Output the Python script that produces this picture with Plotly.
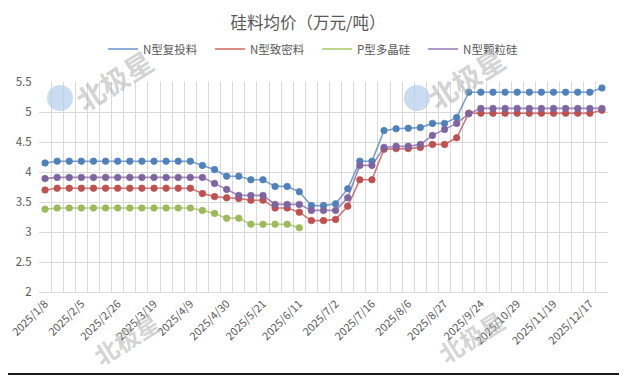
import plotly.graph_objects as go

dates = [
    "2025/1/8", "2025/1/15", "2025/1/22", "2025/2/5", "2025/2/12", "2025/2/19",
    "2025/2/26", "2025/3/5", "2025/3/12", "2025/3/19", "2025/3/26", "2025/4/2",
    "2025/4/9", "2025/4/16", "2025/4/23", "2025/4/30", "2025/5/7", "2025/5/14",
    "2025/5/21", "2025/5/28", "2025/6/4", "2025/6/11", "2025/6/18", "2025/6/25",
    "2025/7/2", "2025/7/9", "2025/7/11", "2025/7/16", "2025/7/23", "2025/7/30",
    "2025/8/6", "2025/8/13", "2025/8/20", "2025/8/27", "2025/9/10", "2025/9/17",
    "2025/9/24", "2025/10/15", "2025/10/22", "2025/10/29", "2025/11/5", "2025/11/12",
    "2025/11/19", "2025/11/26", "2025/12/3", "2025/12/17", "2025/12/24",
]

n_futou = [4.15] + [4.18] * 12 + [4.11, 4.04, 3.93, 3.93, 3.87, 3.87, 3.76, 3.76, 3.67,
           3.44, 3.44, 3.47, 3.72, 4.18, 4.18, 4.69, 4.72, 4.73, 4.74, 4.81, 4.81, 4.91] \
          + [5.33] * 11 + [5.40]
n_zhimi = [3.70] + [3.73] * 12 + [3.64, 3.59, 3.57, 3.56, 3.53, 3.53, 3.40, 3.40, 3.33,
           3.19, 3.19, 3.21, 3.43, 3.87, 3.87, 4.38, 4.39, 4.39, 4.41, 4.46, 4.46, 4.57] \
          + [4.98] * 11 + [5.03]
p_duojing = [3.38] + [3.40] * 12 + [3.36, 3.31, 3.23, 3.23, 3.13, 3.13, 3.13, 3.13, 3.07] \
            + [None] * 25
n_keli = [3.89] + [3.91] * 13 + [3.81, 3.71, 3.61, 3.61, 3.61, 3.46, 3.46, 3.46,
          3.36, 3.36, 3.36, 3.57, 4.11, 4.11, 4.41, 4.43, 4.43, 4.46, 4.61, 4.71, 4.81, 4.97] \
         + [5.06] * 11

series_names = ["N型复投料", "N型致密料", "P型多晶硅", "N型颗粒硅"]
series_values = [n_futou, n_zhimi, p_duojing, n_keli]
marker_colors = ["#4F81BD", "#C0504D", "#9BBB59", "#8064A2"]
line_colors = ["rgba(79,129,189,0.75)", "rgba(192,80,77,0.75)",
               "rgba(155,187,89,0.75)", "rgba(128,100,162,0.75)"]
legend_colors = ["#8EB0DA", "#DE8B88", "#BFD68F", "#B09ACB"]

x_idx = list(range(len(dates)))
tick_idx = x_idx[::3]
tick_text = [dates[i] for i in tick_idx]

TXT = "#595959"
GRID = "#D9D9D9"
FONT = "Noto Sans CJK SC, Noto Sans, sans-serif"

# the page body adds an 8px offset; figure is sized to fill the rest of the window
OFF = 8
FIG_W, FIG_H = 627 - OFF, 375 - OFF

fig = go.Figure()
for name, vals, mc, lc in zip(series_names, series_values, marker_colors, line_colors):
    fig.add_trace(go.Scatter(
        x=x_idx, y=vals, mode="lines+markers", name=name, showlegend=False,
        line=dict(color=lc, width=1.6),
        marker=dict(color=mc, size=6.5, line=dict(color=lc, width=1)),
        hoverinfo="skip",
    ))
for i, (name, lg) in enumerate(zip(series_names, legend_colors)):
    pad = "\u00a0\u00a0\u00a0" if i < len(series_names) - 1 else ""
    fig.add_trace(go.Scatter(
        x=[None], y=[None], mode="lines", name=name + pad,
        line=dict(color=lg, width=2),
    ))

# plot area in page pixels: x 39..608, y 82..292
def px_x(px):
    return (px - 39) / 569.0

def px_y(py):
    return (292 - py) / 210.0

annotations = []
for (cx, cy, fs) in [(114, 80, 28), (466, 78, 28), (126, 338, 24), (471, 336, 24)]:
    annotations.append(dict(
        x=px_x(cx), y=px_y(cy), xref="paper", yref="paper", text="<b>北极星</b>",
        xanchor="center", yanchor="middle",
        showarrow=False, textangle=-32,
        font=dict(size=fs, color="rgba(175,175,175,0.55)", family=FONT),
    ))

shapes = []
for (cx, cy) in [(60, 98), (417, 98)]:
    shapes.append(dict(
        type="circle", xref="paper", yref="paper", xsizemode="pixel", ysizemode="pixel",
        xanchor=px_x(cx), yanchor=px_y(cy), x0=-13, x1=13, y0=-13, y1=13,
        fillcolor="rgba(180,205,235,0.7)", line=dict(width=0), layer="above",
    ))
# frame edges of the screenshot
shapes.append(dict(type="rect", xref="paper", yref="paper", x0=px_x(623), x1=px_x(640),
                   y0=px_y(400), y1=px_y(-10), fillcolor="#1a1a1a", line=dict(width=0),
                   layer="above"))
shapes.append(dict(type="rect", xref="paper", yref="paper", x0=px_x(-10), x1=px_x(640),
                   y0=px_y(400), y1=px_y(373), fillcolor="#1a1a1a", line=dict(width=0),
                   layer="above"))

fig.update_layout(
    width=FIG_W, height=FIG_H, autosize=False,
    margin=dict(l=39 - OFF, r=FIG_W - (608 - OFF), t=82 - OFF, b=FIG_H - (292 - OFF),
                autoexpand=False),
    paper_bgcolor="white", plot_bgcolor="white",
    font=dict(family=FONT, color=TXT, size=11),
    title=dict(text="硅料均价（万元/吨）", x=(308 - OFF) / FIG_W, xref="container",
               xanchor="center", y=1 - (23 - OFF) / FIG_H, yref="container",
               yanchor="middle", font=dict(size=16.5, color=TXT, family=FONT)),
    legend=dict(orientation="h", x=px_x(313), xanchor="center", y=px_y(49),
                yanchor="middle", font=dict(size=11.5, color=TXT, family=FONT),
                bgcolor="rgba(0,0,0,0)", itemwidth=30, tracegroupgap=0),
    xaxis=dict(
        range=[-0.5, len(dates) - 0.5], automargin=False,
        tickmode="array", tickvals=tick_idx, ticktext=tick_text,
        tickangle=-45, showgrid=False, zeroline=False, ticklabeloverflow="allow",
        showline=True, linecolor=GRID, linewidth=1,
        tickfont=dict(size=11, color=TXT, family=FONT),
        minor=dict(tickmode="array", tickvals=[i - 0.5 for i in range(len(dates) + 1)],
                   showgrid=True, gridcolor=GRID, gridwidth=1, ticks=""),
        fixedrange=True,
    ),
    yaxis=dict(
        range=[2, 5.5], tickmode="linear", tick0=2, dtick=0.5, automargin=False,
        showgrid=True, gridcolor=GRID, gridwidth=1, zeroline=False,
        ticks="outside", ticklen=4, tickcolor="rgba(0,0,0,0)",
        showline=False, tickfont=dict(size=11.5, color=TXT, family=FONT),
        fixedrange=True,
    ),
    annotations=annotations,
    shapes=shapes,
)

fig.write_html("out.html")
